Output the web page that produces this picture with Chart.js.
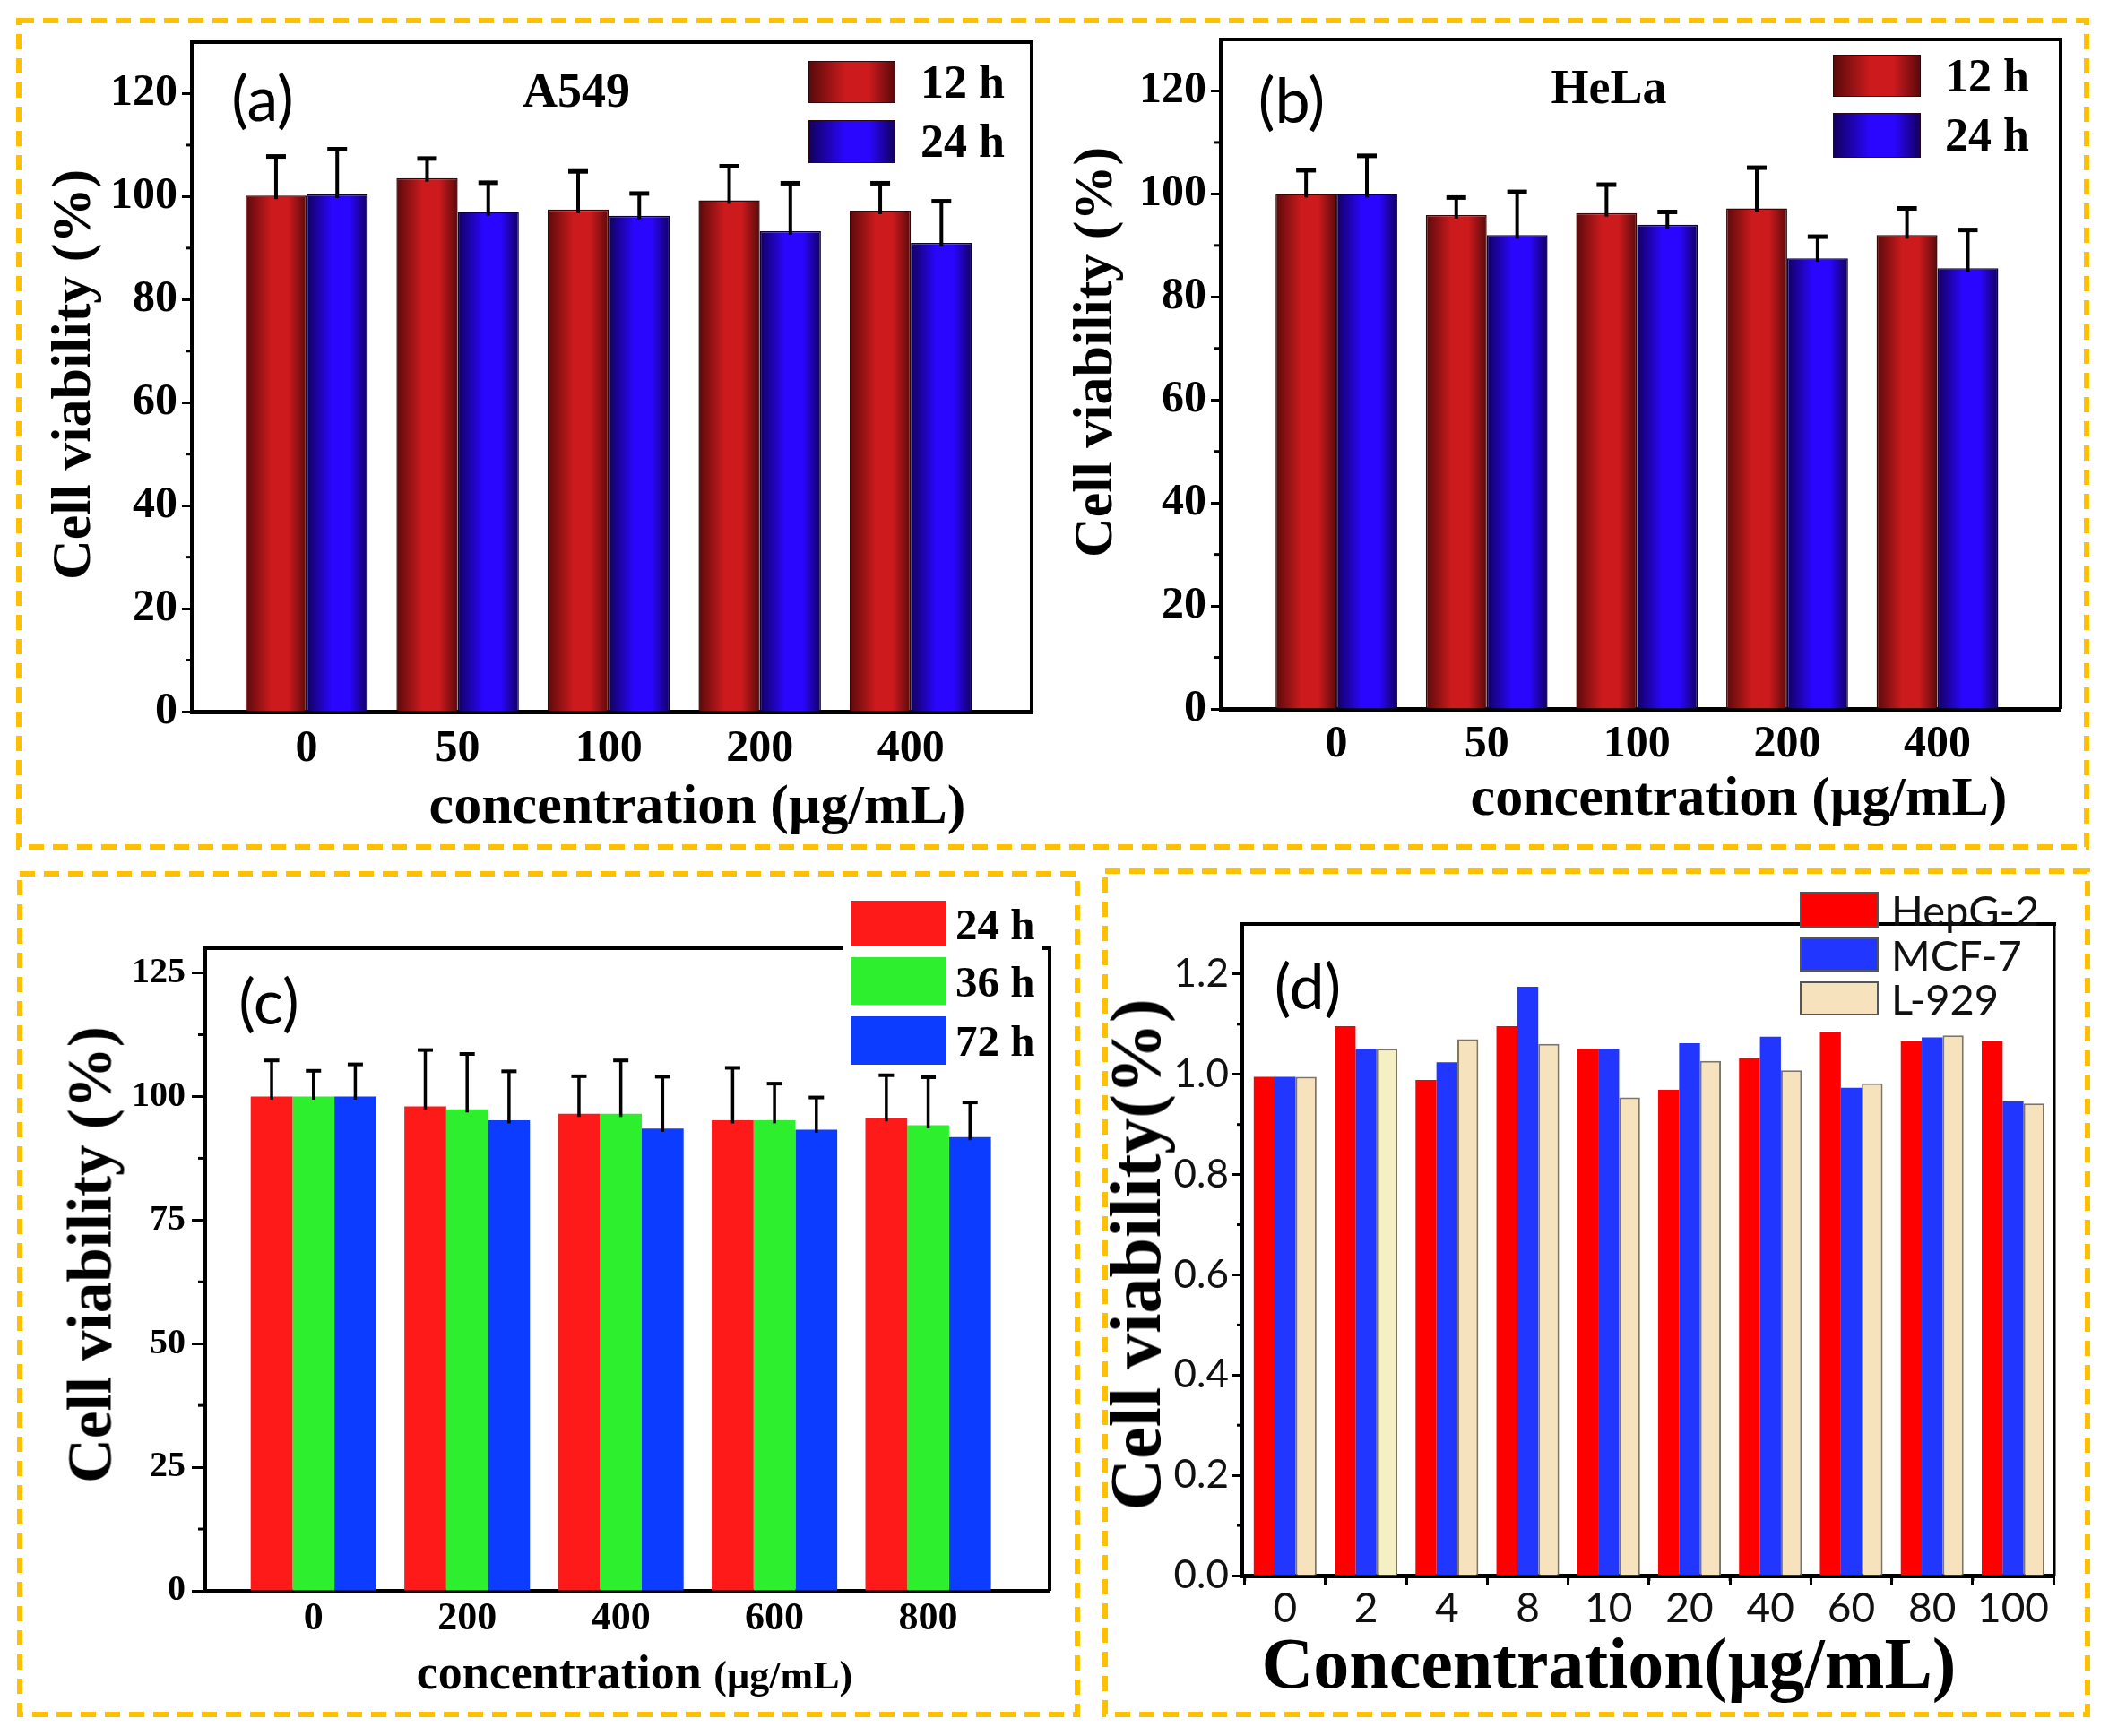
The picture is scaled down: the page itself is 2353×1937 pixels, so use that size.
<!DOCTYPE html>
<html>
<head>
<meta charset="utf-8">
<script src="https://cdn.jsdelivr.net/npm/chart.js@4.4.1/dist/chart.umd.min.js"></script>
<style>
  body { margin: 0; background: #fff; }
  #page { position: relative; width: 2353px; height: 1937px; overflow: hidden; background: #fff; }
  canvas { position: absolute; }
  .txt { position: absolute; white-space: nowrap; line-height: 1; color: #000; }
  .serif { font-family: 'Liberation Serif', 'Times New Roman', serif; font-weight: bold; }
  .sans { font-family: Lato, 'Open Sans', sans-serif; }
  .sw { position: absolute; box-sizing: border-box; }
</style>
</head>
<body>
<div id="page"></div>
<script>
// (a) A549 and (b) HeLa
const concAB = ['0', '50', '100', '200', '400'];
const timesAB = ['12 h', '24 h'];
const a549h12 = [100.2, 103.6, 97.5, 99.3, 97.3];
const a549h12Err = [7.6, 3.8, 7.4, 6.6, 5.3];
const a549h24 = [100.4, 97.0, 96.3, 93.3, 91.0];
const a549h24Err = [8.8, 5.7, 4.3, 9.3, 8.1];
const helaH12 = [100.0, 95.9, 96.3, 97.2, 92.0];
const helaH12Err = [4.6, 3.4, 5.5, 7.9, 5.2];
const helaH24 = [100.0, 92.0, 94.0, 87.5, 85.6];
const helaH24Err = [7.4, 8.4, 2.5, 4.2, 7.4];
const yTicksAB = [0, 20, 40, 60, 80, 100, 120];

// (c)
const concC = ['0', '200', '400', '600', '800'];
const timesC = ['24 h', '36 h', '72 h'];
const cH24 = [100.0, 98.0, 96.5, 95.2, 95.6];
const cH24Err = [7.3, 11.4, 7.6, 10.6, 8.7];
const cH36 = [100.0, 97.4, 96.5, 95.2, 94.2];
const cH36Err = [5.2, 11.2, 10.8, 7.4, 9.7];
const cH72 = [100.0, 95.2, 93.5, 93.3, 91.8];
const cH72Err = [6.5, 9.9, 10.5, 6.5, 7.0];
const yTicksC = [0, 25, 50, 75, 100, 125];

// (d)
const concD = ['0', '2', '4', '8', '10', '20', '40', '60', '80', '100'];
const cellsD = ['HepG-2', 'MCF-7', 'L-929'];
const hepg2 = [0.995, 1.096, 0.989, 1.096, 1.051, 0.969, 1.032, 1.085, 1.066, 1.066];
const mcf7 = [0.995, 1.051, 1.024, 1.175, 1.051, 1.062, 1.075, 0.973, 1.074, 0.946];
const l929 = [0.995, 1.051, 1.070, 1.061, 0.954, 1.027, 1.008, 0.982, 1.078, 0.942];
const yTicksD = [0, 0.2, 0.4, 0.6, 0.8, 1.0, 1.2];

const page = document.getElementById('page');
const SERIF = "'Liberation Serif', 'Times New Roman', serif";
const SANS = "Lato, 'Open Sans', sans-serif";

const RED_DARK = '#5a0a0b', RED_BRIGHT = '#cc1a1d';
const BLUE_DARK = '#12005e', BLUE_BRIGHT = '#2a06ff';

const shaded = (dark, bright) => (ctx) => {
    const el = ctx.element;
    if (!el || !isFinite(el.x) || !isFinite(el.width)) return bright;
    const g = ctx.chart.ctx.createLinearGradient(el.x - el.width / 2, 0, el.x + el.width / 2, 0);
    g.addColorStop(0, dark);
    g.addColorStop(0.42, bright);
    g.addColorStop(0.7, bright);
    g.addColorStop(1, dark);
    return g;
};
const cssShade = (dark, bright) => `linear-gradient(to right, ${dark}, ${bright} 42%, ${bright} 70%, ${dark})`;

const midpoints = (ticks, max) => {
    const step = ticks[1] - ticks[0];
    const out = [];
    for (let i = 0; i < ticks.length; i++) {
        const m = ticks[i] + step / 2;
        if (m < max) out.push(m);
    }
    return out;
};

const framePlugin = {
    id: 'frame',
    afterDraw(chart, args, opts) {
        const { ctx, chartArea: a, scales } = chart;
        ctx.save();
        ctx.strokeStyle = '#000';
        const line = (x1, y1, x2, y2) => {
            ctx.beginPath();
            ctx.moveTo(x1, y1);
            ctx.lineTo(x2, y2);
            ctx.stroke();
        };
        if (opts.top) {
            ctx.lineWidth = opts.top;
            line(a.left, a.top, a.right + opts.top / 2, a.top);
        }
        if (opts.right) {
            ctx.lineWidth = opts.right;
            line(a.right, a.top, a.right, a.bottom);
        }
        if (opts.minorY) {
            ctx.lineWidth = opts.minorWidth;
            opts.minorY.forEach(v => {
                const p = scales.y.getPixelForValue(v);
                line(a.left - opts.minorLen, p, a.left, p);
            });
        }
        if (opts.minorX) {
            ctx.lineWidth = opts.minorWidth;
            opts.minorX.forEach(v => {
                const p = scales.x.getPixelForValue(v);
                line(p, a.bottom, p, a.bottom + opts.minorLen);
            });
        }
        ctx.restore();
    },
};

const errorBarPlugin = {
    id: 'errorBars',
    afterDatasetsDraw(chart, args, opts) {
        if (!opts.width) return;
        const ctx = chart.ctx;
        const ys = chart.scales.y;
        ctx.save();
        ctx.strokeStyle = '#000';
        chart.data.datasets.forEach((ds, di) => {
            if (!ds.errors) return;
            chart.getDatasetMeta(di).data.forEach((bar, i) => {
                const top = ys.getPixelForValue(ds.data[i].y + ds.errors[i]);
                ctx.lineWidth = opts.width;
                ctx.beginPath();
                ctx.moveTo(bar.x, bar.y + opts.width);
                ctx.lineTo(bar.x, top);
                ctx.stroke();
                ctx.lineWidth = opts.capWidth;
                ctx.beginPath();
                ctx.moveTo(bar.x - opts.cap / 2, top);
                ctx.lineTo(bar.x + opts.cap / 2, top);
                ctx.stroke();
            });
        });
        ctx.restore();
    },
};

const makeChart = (cfg) => {
    const { rect, area } = cfg;
    const canvas = document.createElement('canvas');
    canvas.width = rect.w;
    canvas.height = rect.h;
    canvas.style.left = rect.x + 'px';
    canvas.style.top = rect.y + 'px';
    canvas.style.width = rect.w + 'px';
    canvas.style.height = rect.h + 'px';
    page.appendChild(canvas);

    const chart = new Chart(canvas, {
        type: 'bar',
        data: {
            datasets: cfg.series.map(s => ({
                label: s.name,
                data: s.values.map((v, i) => ({ x: i, y: v })),
                errors: s.errors,
                backgroundColor: s.color,
                borderColor: s.border || 'rgba(0,0,0,0)',
                borderWidth: s.borderWidth || 0,
            })),
        },
        options: {
            responsive: false,
            animation: false,
            devicePixelRatio: 1,
            layout: { padding: { top: area.t - rect.y, right: rect.x + rect.w - area.r, left: 0, bottom: 0 } },
            datasets: { bar: { categoryPercentage: cfg.catPct, barPercentage: 1 } },
            plugins: {
                legend: { display: false },
                tooltip: { enabled: false },
                frame: cfg.frame,
                errorBars: cfg.errorBars || {},
            },
            scales: {
                x: {
                    type: 'linear',
                    offset: false,
                    z: 1,
                    min: cfg.xMin,
                    max: cfg.xMax,
                    afterBuildTicks: axis => { axis.ticks = cfg.categories.map((c, i) => ({ value: i })); },
                    afterFit: s => { s.height = rect.y + rect.h - area.b; },
                    grid: {
                        drawOnChartArea: false,
                        drawTicks: !!cfg.xTickLen,
                        tickLength: cfg.xTickLen || 0,
                        tickWidth: 3,
                        tickColor: '#000',
                    },
                    border: { color: '#000', width: cfg.xBorder },
                    ticks: {
                        autoSkip: false,
                        maxRotation: 0,
                        padding: cfg.xPad,
                        color: cfg.tickColor || '#000',
                        font: cfg.xFont,
                        callback: v => cfg.categories[v],
                    },
                },
                y: {
                    z: 1,
                    min: 0,
                    max: cfg.yMax,
                    afterBuildTicks: axis => { axis.ticks = cfg.yTicks.map(v => ({ value: v })); },
                    afterFit: s => { s.width = area.l - rect.x; },
                    grid: {
                        drawOnChartArea: false,
                        tickLength: cfg.yTickLen,
                        tickWidth: 3,
                        tickColor: '#000',
                    },
                    border: { color: '#000', width: cfg.yBorder },
                    ticks: {
                        padding: cfg.yPad,
                        color: cfg.tickColor || '#000',
                        font: cfg.yFont,
                        callback: cfg.yFormat || (v => String(v)),
                    },
                },
            },
        },
        plugins: [framePlugin, errorBarPlugin],
    });
    // second pass so the shaded bars can read their own geometry
    chart.update();
    return chart;
};

const addText = (html, x, y, cls, size, opts = {}) => {
    const el = document.createElement('div');
    el.className = 'txt ' + cls;
    el.innerHTML = html;
    el.style.left = x + 'px';
    el.style.top = y + 'px';
    el.style.fontSize = size + 'px';
    if (opts.color) el.style.color = opts.color;
    const shift = opts.left ? 'translate(0,-50%)' : 'translate(-50%,-50%)';
    el.style.transform = shift + (opts.rotate ? ' rotate(-90deg)' : '');
    page.appendChild(el);
    return el;
};

const addLegend = (names, fills, sw, rows, textX, cls, size, opts = {}) => {
    if (opts.bg) {
        const bg = document.createElement('div');
        bg.className = 'sw';
        bg.style.cssText += `left:${opts.bg.x}px;top:${opts.bg.y}px;width:${opts.bg.w}px;height:${opts.bg.h}px;background:#fff;`;
        page.appendChild(bg);
    }
    names.forEach((name, i) => {
        const box = document.createElement('div');
        box.className = 'sw';
        box.style.left = sw.x + 'px';
        box.style.top = rows[i].y + 'px';
        box.style.width = sw.w + 'px';
        box.style.height = rows[i].h + 'px';
        box.style.background = fills[i];
        box.style.border = opts.swBorder || 'none';
        page.appendChild(box);
        addText(name, textX, rows[i].y + rows[i].h / 2 + (opts.textDy || 0), cls, size, { left: true, color: opts.color });
    });
};

const serifFont = size => ({ family: SERIF, weight: 'bold', size });

// (a)
makeChart({
    rect: { x: 100, y: 0, w: 1080, h: 880 },
    area: { l: 214, t: 47, r: 1151, b: 794 },
    categories: concAB,
    series: [
        { name: timesAB[0], values: a549h12, errors: a549h12Err, color: shaded(RED_DARK, RED_BRIGHT), border: '#3a0506', borderWidth: 1.5 },
        { name: timesAB[1], values: a549h24, errors: a549h24Err, color: shaded(BLUE_DARK, BLUE_BRIGHT), border: '#0c0040', borderWidth: 1.5 },
    ],
    catPct: 0.81,
    xMin: -0.76, xMax: 4.80,
    yMax: 130, yTicks: yTicksAB,
    xBorder: 5, yBorder: 5, xPad: 12, yPad: 5, yTickLen: 11,
    xFont: serifFont(50), yFont: serifFont(50),
    frame: { top: 4, right: 4, minorY: midpoints(yTicksAB, 130), minorLen: 7, minorWidth: 3 },
    errorBars: { width: 4, cap: 22, capWidth: 5 },
});

// (b)
makeChart({
    rect: { x: 1240, y: 0, w: 1100, h: 880 },
    area: { l: 1362, t: 44, r: 2299, b: 791 },
    categories: concAB,
    series: [
        { name: timesAB[0], values: helaH12, errors: helaH12Err, color: shaded(RED_DARK, RED_BRIGHT), border: '#3a0506', borderWidth: 1.5 },
        { name: timesAB[1], values: helaH24, errors: helaH24Err, color: shaded(BLUE_DARK, BLUE_BRIGHT), border: '#0c0040', borderWidth: 1.5 },
    ],
    catPct: 0.81,
    xMin: -0.77, xMax: 4.82,
    yMax: 130, yTicks: yTicksAB,
    xBorder: 5, yBorder: 5, xPad: 10, yPad: 5, yTickLen: 11,
    xFont: serifFont(50), yFont: serifFont(50),
    frame: { top: 4, right: 4, minorY: midpoints(yTicksAB, 130), minorLen: 7, minorWidth: 3 },
    errorBars: { width: 4, cap: 22, capWidth: 5 },
});

// (c)
makeChart({
    rect: { x: 110, y: 990, w: 1080, h: 870 },
    area: { l: 228, t: 1058, r: 1171, b: 1775 },
    categories: concC,
    series: [
        { name: timesC[0], values: cH24, errors: cH24Err, color: '#ff1a1a' },
        { name: timesC[1], values: cH36, errors: cH36Err, color: '#2def2d' },
        { name: timesC[2], values: cH72, errors: cH72Err, color: '#0b3cff' },
    ],
    catPct: 0.817,
    xMin: -0.71, xMax: 4.79,
    yMax: 130, yTicks: yTicksC,
    xBorder: 5, yBorder: 5, xPad: 5, yPad: 7, yTickLen: 14,
    xFont: serifFont(44), yFont: serifFont(40),
    frame: { top: 4, right: 4, minorY: midpoints(yTicksC, 130), minorLen: 7, minorWidth: 3 },
    errorBars: { width: 3.5, cap: 17, capWidth: 4 },
});

// (d)
makeChart({
    rect: { x: 1280, y: 985, w: 1040, h: 870 },
    area: { l: 1386, t: 1031, r: 2292, b: 1758 },
    categories: concD,
    series: [
        { name: cellsD[0], values: hepg2, color: '#ff0000' },
        { name: cellsD[1], values: mcf7, color: '#2136ff' },
        {
            name: cellsD[2], values: l929,
            color: ['#f6e2bd', '#f4f0c4', '#f6e2bd', '#f6e2bd', '#f6e2bd', '#f6e2bd', '#f6e2bd', '#f6e2bd', '#f6e2bd', '#f6e2bd'],
            border: '#7d7667', borderWidth: 2,
        },
    ],
    catPct: 0.776,
    xMin: -0.53, xMax: 9.51,
    yMax: 1.3, yTicks: yTicksD,
    xBorder: 5, yBorder: 4, xPad: 0, yPad: 3, yTickLen: 12, xTickLen: 10,
    xFont: { family: SANS, size: 46 }, yFont: { family: SANS, size: 44 },
    tickColor: '#111',
    yFormat: v => v.toFixed(1),
    frame: {
        top: 4, right: 3,
        minorY: midpoints(yTicksD, 1.3),
        minorX: concD.map((c, i) => i - 0.5),
        minorLen: 6, minorWidth: 3,
    },
});

// panel labels, titles and axis titles
addText('(a)', 293, 108, 'sans', 70);
addText('(b)', 1441, 110, 'sans', 70);
addText('(c)', 300, 1116, 'sans', 70);
addText('(d)', 1459, 1099, 'sans', 70);
addText('A549', 643, 101, 'serif', 54);
addText('HeLa', 1795, 97, 'serif', 54);

addText('Cell viability (%)', 79, 418, 'serif', 62, { rotate: true });
addText('Cell viability (%)', 1219, 393, 'serif', 62, { rotate: true });
addText('Cell viability (%)', 101, 1400, 'serif', 69, { rotate: true });
addText('Cell viability(%)', 1267, 1400, 'serif', 80, { rotate: true });

addText('concentration (µg/mL)', 778, 897, 'serif', 62);
addText('concentration (µg/mL)', 1940, 888, 'serif', 62);
addText('concentration <span style="font-size:44px">(µg/mL)</span>', 708, 1866, 'serif', 54);
addText('Concentration(µg/mL)', 1795, 1856, 'serif', 80);

// legends
addLegend(timesAB, [cssShade(RED_DARK, RED_BRIGHT), cssShade(BLUE_DARK, BLUE_BRIGHT)],
    { x: 902, w: 97 }, [{ y: 68, h: 47 }, { y: 134, h: 48 }], 1027, 'serif', 52,
    { swBorder: '1.5px solid #2a0a10' });
addLegend(timesAB, [cssShade(RED_DARK, RED_BRIGHT), cssShade(BLUE_DARK, BLUE_BRIGHT)],
    { x: 2045, w: 98 }, [{ y: 61, h: 47 }, { y: 126, h: 50 }], 2170, 'serif', 52,
    { swBorder: '1.5px solid #2a0a10' });
addLegend(timesC, ['#ff1a1a', '#2def2d', '#0b3cff'],
    { x: 949, w: 107 }, [{ y: 1005, h: 51 }, { y: 1068, h: 53 }, { y: 1134, h: 54 }], 1066, 'serif', 49,
    { bg: { x: 940, y: 995, w: 222, h: 200 } });
addLegend(cellsD, ['#ff0000', '#2136ff', '#f6e2bd'],
    { x: 2008, w: 88 }, [{ y: 995, h: 40 }, { y: 1046, h: 38 }, { y: 1095, h: 38 }], 2110, 'sans', 47,
    { swBorder: '2.5px solid #555', color: '#111' });

// dashed frames around the panels
const svgNS = 'http://www.w3.org/2000/svg';
const svg = document.createElementNS(svgNS, 'svg');
svg.setAttribute('width', 2353);
svg.setAttribute('height', 1937);
svg.style.cssText = 'position:absolute;left:0;top:0;';
[[21, 23, 2328, 945], [22, 975, 1202, 1913], [1233, 972, 2329, 1913]].forEach(([x1, y1, x2, y2]) => {
    const r = document.createElementNS(svgNS, 'rect');
    r.setAttribute('x', x1);
    r.setAttribute('y', y1);
    r.setAttribute('width', x2 - x1);
    r.setAttribute('height', y2 - y1);
    r.setAttribute('fill', 'none');
    r.setAttribute('stroke', '#ffc000');
    r.setAttribute('stroke-width', 6);
    r.setAttribute('stroke-dasharray', '17 10');
    svg.appendChild(r);
});
page.appendChild(svg);
</script>
</body>
</html>
